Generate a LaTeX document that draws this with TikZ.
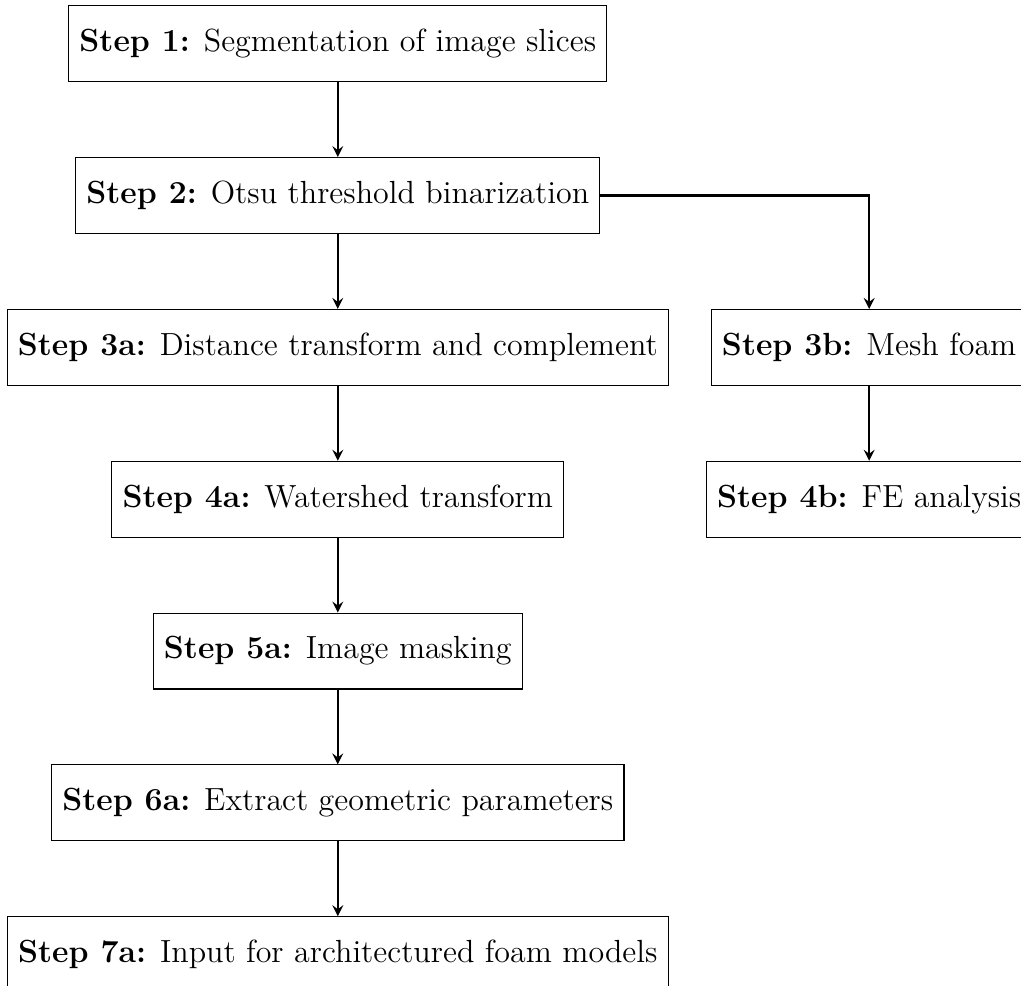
\documentclass[tikz,border=0pt,12pt]{standalone}
\usepackage{amsmath}
\usepackage{tikz}
\usetikzlibrary{
    arrows.meta,
    positioning
}

\begin{document}
\begin{tikzpicture}[
  node distance=0.986cm,
  stepbox/.style={rectangle,draw,align=center,minimum height=1cm},
  arrow/.style={-stealth,thick}
]
\useasboundingbox (-4.45,0.576) rectangle (9.0,-12.40);
\node[stepbox] (s1) at (0,0) {\textbf{Step 1:} Segmentation of image slices};
\node[stepbox, below=of s1] (s2) {\textbf{Step 2:} Otsu threshold binarization};
\node[stepbox, below=of s2] (s3a) {\textbf{Step 3a:} Distance transform and complement};
\node[stepbox, below=of s3a] (s4a) {\textbf{Step 4a:} Watershed transform};
\node[stepbox, below=of s4a] (s5a) {\textbf{Step 5a:} Image masking};
\node[stepbox, below=of s5a] (s6a) {\textbf{Step 6a:} Extract geometric parameters};
\node[stepbox, below=of s6a] (s7a) {\textbf{Step 7a:} Input for architectured foam models};
\node[stepbox] (s3b) at ([xshift=7cm]s3a) {\textbf{Step 3b:} Mesh foam};
\node[stepbox, below=of s3b] (s4b) {\textbf{Step 4b:} FE analysis};
\draw[arrow] (s1) -- (s2);
\draw[arrow] (s2) -- (s3a);
\draw[arrow] (s3a) -- (s4a);
\draw[arrow] (s4a) -- (s5a);
\draw[arrow] (s5a) -- (s6a);
\draw[arrow] (s6a) -- (s7a);
\draw[arrow] (s2) -| (s3b);
\draw[arrow] (s3b) -- (s4b);
\end{tikzpicture}
\end{document}
